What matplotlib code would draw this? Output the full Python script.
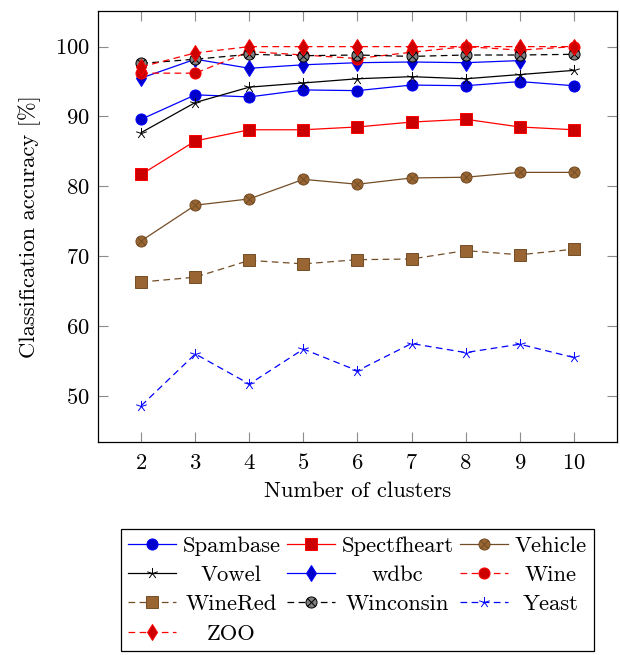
import numpy as np
import matplotlib
matplotlib.use("Agg")
import matplotlib.pyplot as plt
from matplotlib.path import Path

plt.rcParams['font.family'] = ['cmr10', 'DejaVu Serif']
plt.rcParams['mathtext.fontset'] = 'cm'
plt.rcParams['axes.formatter.use_mathtext'] = True
plt.rcParams['lines.scale_dashes'] = False

clusters = [2, 3, 4, 5, 6, 7, 8, 9, 10]
spambase = [89.6, 93.1, 92.8, 93.8, 93.7, 94.5, 94.4, 95.0, 94.4]
spectfheart = [81.7, 86.5, 88.1, 88.1, 88.5, 89.2, 89.6, 88.5, 88.1]
vehicle = [72.2, 77.3, 78.2, 81.0, 80.3, 81.2, 81.3, 82.0, 82.0]
vowel = [87.7, 92.0, 94.2, 94.8, 95.4, 95.7, 95.4, 96.0, 96.6]
wdbc = [95.5, 98.2, 96.9, 97.4, 97.7, 97.8, 97.7, 98.0, np.nan]
wine = [96.2, 96.2, 99.3, 98.8, 98.3, 99.2, 100.0, 99.5, 100.0]
winered = [66.3, 67.0, 69.4, 68.9, 69.5, 69.6, 70.8, 70.2, 71.0]
winconsin = [97.6, 98.2, 98.9, 98.7, 98.8, 98.6, 98.8, 98.8, 98.9]
yeast = [48.6, 56.0, 51.7, 56.7, 53.6, 57.5, 56.2, 57.4, 55.5]
zoo = [97.1, 99.1, 100.0, 100.0, 100.0, 100.0, 100.0, 100.0, 100.0]

# pgfplots-like marks
ang = np.deg2rad(90 + 72 * np.arange(5))
star_v = []
star_c = []
for a in ang:
    star_v += [(0, 0), (np.cos(a), np.sin(a))]
    star_c += [Path.MOVETO, Path.LINETO]
star = Path(star_v, star_c)
r = 0.7071
cross = Path([(-r, -r), (r, r), (-r, r), (r, -r)],
             [Path.MOVETO, Path.LINETO, Path.MOVETO, Path.LINETO])
otimes = Path.make_compound_path(Path.unit_circle(), cross)

blue = (0, 0, 1)
red = (1, 0, 0)
brown = (0.45, 0.3, 0.15)
dash = (0, (4.8, 3.2))
fs = 16.3

series = [
    ("Spambase", spambase, blue, (0, 0, 0.8), 'o', '-', 8),
    ("Spectfheart", spectfheart, red, (0.8, 0, 0), 's', '-', 8),
    ("Vehicle", vehicle, brown, (0.6, 0.4, 0.2), otimes, '-', 8),
    ("Vowel", vowel, 'black', 'black', star, '-', 8),
    ("wdbc", wdbc, blue, (0, 0, 0.8), 'd', '-', 8),
    ("Wine", wine, red, (0.8, 0, 0), 'o', dash, 8),
    ("WineRed", winered, brown, (0.6, 0.4, 0.2), 's', dash, 8),
    ("Winconsin", winconsin, 'black', (0.5, 0.5, 0.5), otimes, dash, 8),
    ("Yeast", yeast, blue, blue, star, dash, 8),
    ("ZOO", zoo, red, (0.8, 0, 0), 'd', dash, 8),
]

fig = plt.figure(figsize=(6.2, 6.55), dpi=100)
ax = fig.add_axes([98 / 620, 1 - 442 / 655, 519 / 620, 431 / 655])

handles = []
for name, vals, col, fill, mk, ls, ms in series:
    h, = ax.plot(clusters, vals, color=col, linestyle=ls, linewidth=0.9,
                 marker=mk, markersize=ms, markerfacecolor=fill,
                 markeredgecolor=col, markeredgewidth=0.7, label=name)
    handles.append(h)

ax.set_xlim(1.2, 10.8)
ax.set_ylim(43.4, 105.1)
ax.set_xticks(clusters)
ax.set_yticks([50, 60, 70, 80, 90, 100])
ax.tick_params(direction='in', length=7, width=0.8, color='0.55',
               top=True, right=True, labelsize=fs)
ax.tick_params(axis='x', pad=8)
ax.tick_params(axis='y', pad=6)
for sp in ax.spines.values():
    sp.set_linewidth(0.9)

ax.set_xlabel("Number of clusters", fontsize=fs, labelpad=6)
ax.set_ylabel("Classification accuracy [%]", fontsize=fs, labelpad=10)

# row-major order like pgfplots, matplotlib fills columns first
order = [0, 3, 6, 9, 1, 4, 7, 2, 5, 8]
leg = ax.legend([handles[i] for i in order], [series[i][0] for i in order],
                ncol=3, loc='upper center', bbox_to_anchor=(0.5, -0.202),
                fontsize=fs, fancybox=False, edgecolor='black', framealpha=1,
                handlelength=2.1, handletextpad=0.3, columnspacing=0.3,
                labelspacing=0.42, borderpad=0.3, borderaxespad=0)
leg.get_frame().set_linewidth(0.9)

# centre the labels inside their columns
fig.canvas.draw()
renderer = fig.canvas.get_renderer()
texts = leg.get_texts()
for group in [[0, 1, 2, 3], [4, 5, 6], [7, 8, 9]]:
    widths = [texts[i].get_window_extent(renderer).width for i in group]
    wmax = max(widths)
    for i, w in zip(group, widths):
        texts[i].set_x((wmax - w) / 2)

fig.savefig("out.png", dpi=100)
